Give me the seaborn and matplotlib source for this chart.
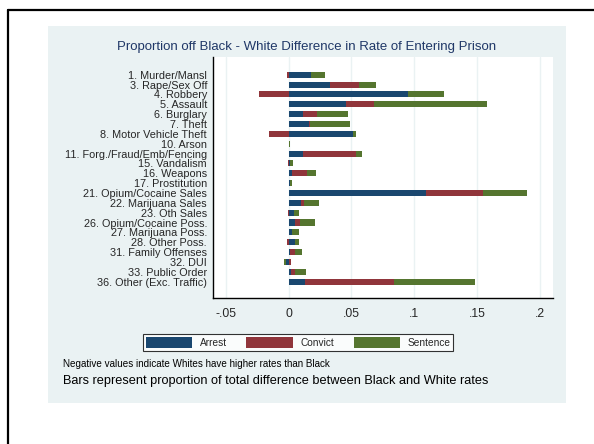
"""Stacked horizontal bars: Black-White difference in rate of entering prison."""

import matplotlib

matplotlib.use("Agg")

import matplotlib.pyplot as plt
import numpy as np
import pandas as pd
import seaborn as sns
from matplotlib.lines import Line2D
from matplotlib.patches import Patch, Rectangle

offenses = [
    "1. Murder/Mansl", "3. Rape/Sex Off", "4. Robbery", "5. Assault",
    "6. Burglary", "7. Theft", "8. Motor Vehicle Theft", "10. Arson",
    "11. Forg./Fraud/Emb/Fencing", "15. Vandalism", "16. Weapons",
    "17. Prostitution", "21. Opium/Cocaine Sales", "22. Marijuana Sales",
    "23. Oth Sales", "26. Opium/Cocaine Poss.", "27. Marijuana Poss.",
    "28. Other Poss.", "31. Family Offenses", "32. DUI", "33. Public Order",
    "36. Other (Exc. Traffic)",
]
arrest = [0.018, 0.033, 0.095, 0.046, 0.0114, 0.016, 0.051, 0.0002,
          0.0114, 0.001, 0.0027, 0.0008, 0.109, 0.0098, 0.004, 0.0048,
          0.0027, 0.005, 0.001, -0.002, 0.0016, 0.013]
convict = [-0.001, 0.023, -0.024, 0.022, 0.011, 0.001, -0.0155, 0.0002,
           0.042, -0.0008, 0.012, 0.0004, 0.0455, 0.0024, -0.0008, 0.0042,
           0.0003, -0.0013, 0.004, 0.0018, 0.0032, 0.0706]
sentence = [0.011, 0.0135, 0.029, 0.090, 0.0245, 0.0316, 0.0025, 0.0008,
            0.005, 0.0025, 0.0072, 0.0015, 0.035, 0.0117, 0.004, 0.012,
            0.005, 0.0035, 0.0056, -0.0016, 0.0092, 0.0645]

components = ["Arrest", "Convict", "Sentence"]
colors = ["#1A476F", "#90353B", "#55752F"]
xticks = [-0.05, 0, 0.05, 0.1, 0.15, 0.2]
xticklabels = ["-.05", "0", ".05", ".1", ".15", ".2"]

sns.set_theme(style="white")
plt.rcParams["font.family"] = ["Liberation Sans", "DejaVu Sans"]

W, H = 594, 444
fig = plt.figure(figsize=(W / 100, H / 100), dpi=100)
fig.patch.set_facecolor("white")

# light graph region + the black frame lines on the left/top edges
fig.patches.append(Rectangle((48 / W, 1 - 403 / H), 518 / W, 377 / H,
                             transform=fig.transFigure, facecolor="#EAF2F3",
                             edgecolor="none", zorder=-5))
fig.lines.append(Line2D([8 / W, 8 / W], [0, 1 - 10 / H], transform=fig.transFigure,
                        color="black", lw=1.6))
fig.lines.append(Line2D([8 / W, 1], [1 - 10 / H, 1 - 10 / H], transform=fig.transFigure,
                        color="black", lw=1.6))

ax = fig.add_axes([213.3 / W, 1 - 298 / H, 339.4 / W, 241.3 / H])
ax.set_facecolor("white")

# positive parts stack to the right, negative parts stack to the left
vals = np.array([arrest, convict, sentence])
pos_cum = np.cumsum(np.clip(vals, 0, None), axis=0)
neg_cum = np.cumsum(np.clip(vals, None, 0), axis=0)

for k in reversed(range(3)):
    for cum in (pos_cum, neg_cum):
        df = pd.DataFrame({"offense": offenses, "value": cum[k]})
        sns.barplot(data=df, x="value", y="offense", orient="h", color=colors[k],
                    saturation=1, width=0.62, errorbar=None, ax=ax, linewidth=0)

ax.set_xlim(-0.060, 0.2102)
ax.set_ylim(len(offenses) - 1 + 1.66, -1.83)
ax.set_xticks(xticks)
ax.set_xticklabels(xticklabels, fontsize=8.8)
ax.tick_params(axis="x", length=3, width=0.8, color="black", pad=4)
ax.tick_params(axis="y", length=0, pad=4.5, labelsize=7.8)
ax.set_xlabel("")
ax.set_ylabel("")
for x in xticks:
    ax.axvline(x, color="#EAF2F3", lw=1.0, zorder=0)
for side in ("top", "right"):
    ax.spines[side].set_visible(False)
for side in ("left", "bottom"):
    ax.spines[side].set_color("black")
    ax.spines[side].set_linewidth(1.0)

fig.text(307 / W, 1 - 47 / H,
         "Proportion off Black - White Difference in Rate of Entering Prison",
         ha="center", va="center", fontsize=9.5, color="#1F3767")

handles = [Patch(facecolor=c, edgecolor="none", label=l) for c, l in zip(colors, components)]
leg = fig.legend(handles=handles, loc="center", ncol=3,
                 bbox_to_anchor=(298.3 / W, 1 - 342.7 / H), fontsize=7.3,
                 handlelength=4.6, handleheight=1.35, handletextpad=0.75,
                 columnspacing=1.9, borderpad=0.25, frameon=True, fancybox=False)
leg.get_frame().set_edgecolor("black")
leg.get_frame().set_linewidth(0.8)
leg.get_frame().set_facecolor("white")

fig.text(63 / W, 1 - 364 / H, "Negative values indicate Whites have higher rates than Black",
         ha="left", va="center", fontsize=7.1, color="black")
fig.text(63 / W, 1 - 380.7 / H,
         "Bars represent proportion of total difference between Black and White rates",
         ha="left", va="center", fontsize=9.2, color="black")

fig.savefig("out.png", dpi=100)
plt.close(fig)
